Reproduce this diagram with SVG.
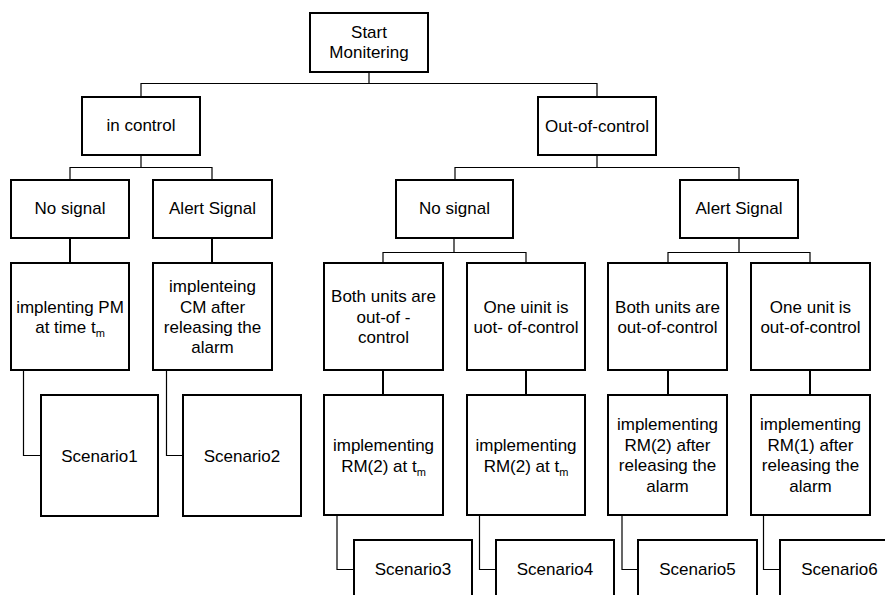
<svg xmlns="http://www.w3.org/2000/svg" width="885" height="595" viewBox="0 0 885 595">
<style>
.box{fill:none;stroke:#000;stroke-width:2}
.thin{fill:none;stroke:#000;stroke-width:1.2}
.thick{fill:none;stroke:#000;stroke-width:2}
text{font-family:"Liberation Sans",Arial,sans-serif;font-size:17px;fill:#000;text-anchor:middle}
.sub{font-size:11px}
</style>
<rect x="0" y="0" width="885" height="595" fill="#fff"/>
<g id="connectors">
<path class="thin" d="M369,72V83.5M141,97V83.5H597V97"/>
<path class="thin" d="M141,155V167.5M70,180V167.5H212V180"/>
<path class="thin" d="M597,155V167.5M455,180V167.5H739V180"/>
<path class="thick" d="M70,238V263M212,238V263"/>
<path class="thin" d="M454,238V252.5M383,263V252.5H526V263"/>
<path class="thin" d="M739,238V252.5M668,263V252.5H810V263"/>
<path class="thick" d="M383,370V395M526,370V395M668,370V395M810,370V395"/>
<path class="thin" d="M23.5,370V455.5H41"/>
<path class="thin" d="M166.5,370V455.5H183"/>
<path class="thin" d="M337,515V569.5H354"/>
<path class="thin" d="M479.5,515V569.5H496"/>
<path class="thin" d="M622,515V569.5H638"/>
<path class="thin" d="M763.5,515V569.5H780"/>
</g>
<g id="start"><rect class="box" x="310" y="13" width="118" height="59"/><text x="369" y="38">Start</text><text x="369" y="58">Monitering</text></g>
<g id="in-control"><rect class="box" x="82" y="97" width="118" height="58"/><text x="141" y="131">in control</text></g>
<g id="out-of-control"><rect class="box" x="538" y="97" width="118" height="58"/><text x="597" y="132">Out-of-control</text></g>
<g id="no-signal-1"><rect class="box" x="11" y="180" width="118" height="58"/><text x="70" y="214">No signal</text></g>
<g id="alert-signal-1"><rect class="box" x="153" y="180" width="119" height="58"/><text x="212.5" y="214">Alert Signal</text></g>
<g id="no-signal-2"><rect class="box" x="396" y="180" width="117" height="58"/><text x="454.5" y="214">No signal</text></g>
<g id="alert-signal-2"><rect class="box" x="680" y="180" width="118" height="58"/><text x="739" y="214">Alert Signal</text></g>
<g id="pm"><rect class="box" x="11" y="263" width="118" height="107"/><text x="70" y="313">implenting PM</text><text x="70" y="333">at time t<tspan class="sub" dy="4">m</tspan></text></g>
<g id="cm"><rect class="box" x="153" y="263" width="119" height="107"/><text x="212.5" y="292">implenteing</text><text x="212.5" y="313">CM after</text><text x="212.5" y="333">releasing the</text><text x="212.5" y="353">alarm</text></g>
<g id="both-1"><rect class="box" x="324" y="263" width="119" height="107"/><text x="383.5" y="302">Both units are</text><text x="383.5" y="323">out-of -</text><text x="383.5" y="343">control</text></g>
<g id="one-1"><rect class="box" x="467" y="263" width="118" height="107"/><text x="526" y="313">One uinit is</text><text x="526" y="333">uot- of-control</text></g>
<g id="both-2"><rect class="box" x="608" y="263" width="119" height="107"/><text x="667.5" y="313">Both units are</text><text x="667.5" y="333">out-of-control</text></g>
<g id="one-2"><rect class="box" x="751" y="263" width="119" height="107"/><text x="810.5" y="313">One unit is</text><text x="810.5" y="333">out-of-control</text></g>
<g id="scenario1"><rect class="box" x="41" y="395" width="117" height="121"/><text x="99.5" y="462">Scenario1</text></g>
<g id="scenario2"><rect class="box" x="183" y="395" width="118" height="121"/><text x="242" y="462">Scenario2</text></g>
<g id="rm2-1"><rect class="box" x="324" y="395" width="119" height="120"/><text x="383.5" y="451">implementing</text><text x="383.5" y="472">RM(2) at t<tspan class="sub" dy="4">m</tspan></text></g>
<g id="rm2-2"><rect class="box" x="467" y="395" width="118" height="120"/><text x="526" y="451">implementing</text><text x="526" y="472">RM(2) at t<tspan class="sub" dy="4">m</tspan></text></g>
<g id="rm2-3"><rect class="box" x="608" y="395" width="119" height="120"/><text x="667.5" y="430">implementing</text><text x="667.5" y="451">RM(2) after</text><text x="667.5" y="471">releasing the</text><text x="667.5" y="492">alarm</text></g>
<g id="rm1"><rect class="box" x="751" y="395" width="119" height="120"/><text x="810.5" y="430">implementing</text><text x="810.5" y="451">RM(1) after</text><text x="810.5" y="471">releasing the</text><text x="810.5" y="492">alarm</text></g>
<g id="scenario3"><rect class="box" x="354" y="540" width="118" height="80"/><text x="413" y="575">Scenario3</text></g>
<g id="scenario4"><rect class="box" x="496" y="540" width="118" height="80"/><text x="555" y="575">Scenario4</text></g>
<g id="scenario5"><rect class="box" x="638" y="540" width="119" height="80"/><text x="697.5" y="575">Scenario5</text></g>
<g id="scenario6"><rect class="box" x="780" y="540" width="119" height="80"/><text x="839.5" y="575">Scenario6</text></g>
</svg>
